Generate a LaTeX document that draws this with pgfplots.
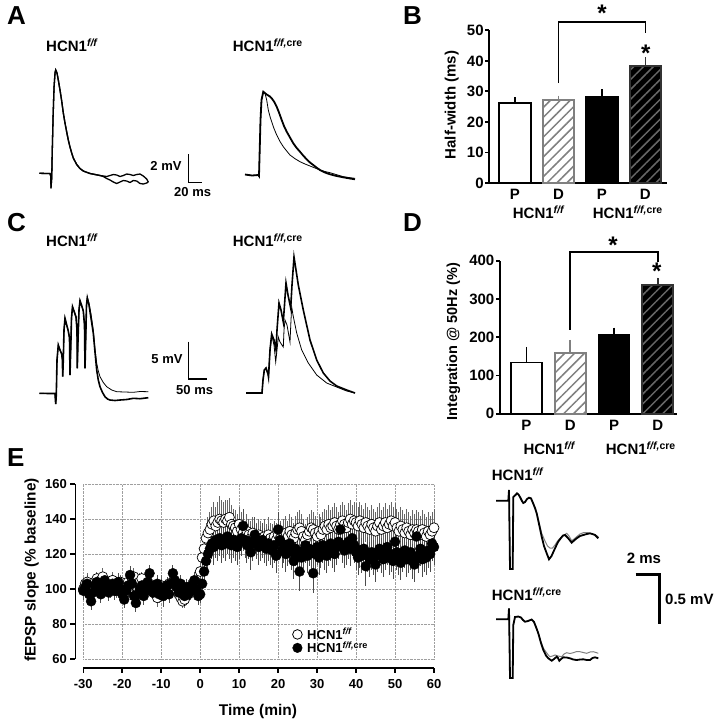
\documentclass[border=0pt]{standalone}
\usepackage{fontspec}
\setmainfont{Liberation Sans}
\usepackage{pgfplots}
\pgfplotsset{compat=1.18}
\usepackage{pgfplotstable}
\usetikzlibrary{patterns.meta}
\newcommand{\fs}[1]{\fontsize{#1}{#1}\selectfont\bfseries}
\newcommand{\ff}{HCN1\textsuperscript{\itshape f/f}}
\newcommand{\ffc}{HCN1\textsuperscript{\itshape f/f,\upshape cre}}

\pgfplotstableread{
t y e
-30 100 4
-29.5 103 4
-29 104 5
-28.5 101 4
-28 99 4
-27.5 102 5
-27 104 4
-26.5 106 4
-26 103 5
-25.5 105 4
-25 107 5
-24.5 104 4
-24 102 5
-23.5 100 4
-23 103 4
-22.5 105 5
-22 101 4
-21.5 99 4
-21 102 5
-20.5 104 4
-20 100 4
-19.5 97 5
-19 101 4
-18.5 104 4
-18 102 5
-17.5 106 4
-17 107 5
-16.5 103 4
-16 100 4
-15.5 104 5
-15 106 4
-14.5 102 4
-14 99 5
-13.5 101 4
-13 103 4
-12.5 100 5
-12 98 4
-11.5 101 4
-11 95 5
-10.5 99 4
-10 102 6
-9.5 100 4
-9 97 4
-8.5 101 5
-8 103 4
-7.5 100 4
-7 104 5
-6.5 101 4
-6 99 4
-5.5 97 5
-5 95 4
-4.5 93 4
-4 94 5
-3.5 98 4
-3 101 4
-2.5 99 5
-2 102 4
-1.5 100 4
-1 104 5
-0.5 103 4
0 110 6
0.5 118 7
1 123 8
1.5 129 9
2 132 9
2.5 134 10
3 137 10
3.5 139 11
4 136 11
4.5 138 12
5 140 13
5.5 139 12
6 138 12
6.5 140 11
7 139 12
7.5 141 11
8 137 11
8.5 136 10
9 135 10
9.5 133 10
10 137 10
10.5 134 10
11 132 10
11.5 130 9
12 133 10
12.5 131 9
13 129 10
13.5 132 9
14 130 10
14.5 128 10
15 131 9
15.5 129 10
16 127 9
16.5 130 10
17 128 9
17.5 131 10
18 129 9
18.5 127 10
19 130 9
19.5 128 10
20 131 9
20.5 129 10
21 127 9
21.5 130 10
22 132 10
22.5 130 9
23 133 10
23.5 131 10
24 129 9
24.5 132 10
25 134 10
25.5 135 10
26 133 10
26.5 130 10
27 128 9
27.5 131 10
28 133 10
28.5 135 10
29 134 10
29.5 132 10
30 130 10
30.5 133 10
31 131 10
31.5 134 10
32 136 10
32.5 134 11
33 137 11
33.5 135 10
34 136 11
34.5 138 11
35 136 11
35.5 134 10
36 137 11
36.5 139 11
37 137 11
37.5 135 10
38 138 11
38.5 140 11
39 137 11
39.5 139 11
40 138 11
40.5 136 11
41 139 11
41.5 137 11
42 135 11
42.5 138 11
43 136 11
43.5 134 11
44 137 11
44.5 135 11
45 133 11
45.5 136 11
46 138 11
46.5 134 11
47 136 11
47.5 138 11
48 135 11
48.5 137 11
49 139 11
49.5 136 11
50 138 11
50.5 135 11
51 133 11
51.5 136 11
52 134 11
52.5 132 11
53 135 11
53.5 133 11
54 131 11
54.5 134 11
55 132 11
55.5 134 11
56 133 11
56.5 131 11
57 134 11
57.5 132 11
58 130 11
58.5 133 11
59 131 11
59.5 133 11
60 135 11
}\ffdata

\pgfplotstableread{
t y e
-30 99 5
-29.5 101 5
-29 103 5
-28.5 97 5
-28 93 5
-27.5 98 5
-27 102 5
-26.5 104 5
-26 100 5
-25.5 97 5
-25 103 6
-24.5 105 5
-24 101 5
-23.5 98 5
-23 100 5
-22.5 103 5
-22 99 5
-21.5 101 5
-21 104 5
-20.5 100 5
-20 97 5
-19.5 94 5
-19 99 5
-18.5 102 5
-18 108 5
-17.5 103 5
-17 96 5
-16.5 92 5
-16 97 5
-15.5 100 5
-15 102 5
-14.5 96 5
-14 99 5
-13.5 104 5
-13 109 5
-12.5 102 5
-12 98 5
-11.5 100 5
-11 103 5
-10.5 97 5
-10 101 5
-9.5 96 6
-9 99 5
-8.5 102 5
-8 97 5
-7.5 103 5
-7 109 5
-6.5 105 5
-6 101 5
-5.5 98 5
-5 103 5
-4.5 99 5
-4 96 5
-3.5 101 5
-3 97 5
-2.5 99 5
-2 102 5
-1.5 105 5
-1 100 5
-0.5 96 5
0 97 5
0.5 103 6
1 110 7
1.5 116 8
2 120 9
2.5 123 9
3 126 9
3.5 124 10
4 128 10
4.5 126 10
5 129 10
5.5 125 10
6 128 10
6.5 126 10
7 130 10
7.5 127 10
8 125 10
8.5 128 10
9 126 10
9.5 124 10
10 127 10
10.5 129 10
11 136 10
11.5 128 10
12 125 10
12.5 127 10
13 121 10
13.5 126 10
14 131 10
14.5 127 10
15 124 10
15.5 126 10
16 128 10
16.5 125 10
17 123 10
17.5 126 10
18 124 10
18.5 122 10
19 125 10
19.5 119 10
20 134 10
20.5 128 10
21 122 10
21.5 125 10
22 120 10
22.5 123 10
23 126 10
23.5 121 10
24 116 10
24.5 123 10
25 120 10
25.5 110 11
26 118 10
26.5 122 10
27 125 10
27.5 119 10
28 123 10
28.5 121 10
29 109 11
29.5 120 10
30 124 10
30.5 118 10
31 122 10
31.5 125 10
32 121 10
32.5 119 10
33 123 10
33.5 126 10
34 122 10
34.5 120 10
35 124 10
35.5 127 10
36 134 10
36.5 125 10
37 122 10
37.5 124 10
38 127 10
38.5 123 10
39 129 10
39.5 125 10
40 121 10
40.5 118 10
41 122 10
41.5 119 10
42 123 10
42.5 113 11
43 120 10
43.5 117 10
44 121 10
44.5 118 10
45 114 10
45.5 120 10
46 123 10
46.5 119 10
47 117 10
47.5 121 10
48 124 10
48.5 118 10
49 120 10
49.5 116 10
50 127 10
50.5 121 10
51 118 10
51.5 115 10
52 120 10
52.5 122 10
53 117 10
53.5 119 10
54 121 10
54.5 116 10
55 114 10
55.5 130 10
56 119 10
56.5 123 10
57 117 10
57.5 120 10
58 118 10
58.5 122 10
59 120 10
59.5 126 10
60 124 10
}\credata

\begin{document}
\begin{tikzpicture}
\path[use as bounding box] (0,0) rectangle (719pt,-720pt);

% ---------------- Panel B ----------------
\begin{axis}[at={(489.3pt,-183pt)}, anchor=south west, scale only axis,
  width=177.4pt, height=152.7pt, xmin=0.41, xmax=4.49, ymin=0, ymax=50,
  axis x line*=bottom, axis y line*=left, axis line style={line width=1.8pt},
  ytick={0,10,...,50}, xtick={1,2,3,4}, xticklabels={P,D,P,D},
  tick align=outside, major tick length=4pt,
  ytick style={line width=1.8pt, black}, xtick style={draw=none},
  yticklabel style={font=\fs{15}, inner xsep=1.5pt},
  xticklabel style={font=\fs{15}, yshift=-1pt, inner ysep=1pt},
  /pgf/number format/assume math mode=true, clip=false]
\addplot[ybar, bar width=31.5pt, bar shift=0pt, fill=white, draw=black, line width=1.8pt,
  error bars/.cd, y dir=plus, y explicit, error mark=none, error bar style={line width=1.8pt, black}]
  coordinates {(1,26.3) +- (0,1.7)};
\addplot[ybar, bar width=31.5pt, bar shift=0pt, fill=white, draw=gray, line width=1.8pt,
  postaction={pattern={Lines[angle=45,distance=7pt,line width=1.5pt]}, pattern color=gray},
  error bars/.cd, y dir=plus, y explicit, error mark=none, error bar style={line width=1.8pt, gray}]
  coordinates {(2,27.2) +- (0,1.4)};
\addplot[ybar, bar width=31.5pt, bar shift=0pt, fill=black, draw=black, line width=1.8pt,
  error bars/.cd, y dir=plus, y explicit, error mark=none, error bar style={line width=1.8pt, black}]
  coordinates {(3,28.2) +- (0,2.5)};
\addplot[ybar, bar width=31.5pt, bar shift=0pt, fill=black, draw=black!80, line width=1.8pt,
  postaction={pattern={Lines[angle=45,distance=7pt,line width=1.5pt]}, pattern color=black!60},
  error bars/.cd, y dir=plus, y explicit, error mark=none, error bar style={line width=1.8pt, black!80}]
  coordinates {(4,38.4) +- (0,2.8)};
\draw[line width=1.8pt] (axis cs:2,32.7) |- (axis cs:4,52.6) -- (axis cs:4,49);
\end{axis}

% ---------------- Panel D ----------------
\begin{axis}[at={(500pt,-413.7pt)}, anchor=south west, scale only axis,
  width=177.3pt, height=153pt, xmin=0.395, xmax=4.445, ymin=0, ymax=400,
  axis x line*=bottom, axis y line*=left, axis line style={line width=1.8pt},
  ytick={0,100,...,400}, xtick={1,2,3,4}, xticklabels={P,D,P,D},
  tick align=outside, major tick length=4pt,
  ytick style={line width=1.8pt, black}, xtick style={draw=none},
  yticklabel style={font=\fs{15}, inner xsep=1.5pt},
  xticklabel style={font=\fs{15}, yshift=-1pt, inner ysep=1pt},
  /pgf/number format/assume math mode=true, clip=false]
\addplot[ybar, bar width=31pt, bar shift=0pt, fill=white, draw=black, line width=1.8pt,
  error bars/.cd, y dir=plus, y explicit, error mark=none, error bar style={line width=1.8pt, black}]
  coordinates {(1,134) +- (0,41)};
\addplot[ybar, bar width=31pt, bar shift=0pt, fill=white, draw=gray, line width=1.8pt,
  postaction={pattern={Lines[angle=45,distance=7pt,line width=1.5pt]}, pattern color=gray},
  error bars/.cd, y dir=plus, y explicit, error mark=none, error bar style={line width=1.8pt, gray}]
  coordinates {(2,158) +- (0,35)};
\addplot[ybar, bar width=31pt, bar shift=0pt, fill=black, draw=black, line width=1.8pt,
  error bars/.cd, y dir=plus, y explicit, error mark=none, error bar style={line width=1.8pt, black}]
  coordinates {(3,206) +- (0,19)};
\addplot[ybar, bar width=31pt, bar shift=0pt, fill=black, draw=black!80, line width=1.8pt,
  postaction={pattern={Lines[angle=45,distance=7pt,line width=1.5pt]}, pattern color=black!60},
  error bars/.cd, y dir=plus, y explicit, error mark=none, error bar style={line width=1.8pt, black!80}]
  coordinates {(4,336) +- (0,20)};
\draw[line width=1.8pt] (axis cs:2,219) |- (axis cs:4,422) -- (axis cs:4,397);
\end{axis}

% ---------------- Panel E (time course) ----------------
\begin{axis}[at={(83.3pt,-659pt)}, anchor=south west, scale only axis,
  width=350.7pt, height=175pt, xmin=-30, xmax=60, ymin=60, ymax=160,
  xtick={-30,-20,...,60}, ytick={60,80,...,160},
  axis x line*=bottom, axis y line*=left,
  axis x line shift=8.7pt, axis y line shift=8pt,
  axis line style={line width=1.6pt},
  grid=major, grid style={densely dotted, gray!75, line width=0.9pt},
  tick align=outside, major tick length=5pt,
  every tick/.style={line width=1.6pt, black},
  ticklabel style={font=\fs{13}},
  xticklabel style={yshift=-3pt},
  /pgf/number format/assume math mode=true, clip=false,
  legend style={draw=none, fill=none, at={(axis cs:22.9,70.2)}, anchor=west,
    font=\fs{13}, row sep=-1pt, nodes={inner ysep=1pt}},
  legend cell align=left]
\addlegendimage{only marks, mark=*, mark size=4.8pt, mark options={fill=white, draw=black, line width=0.8pt}}
\addlegendimage{only marks, mark=*, mark size=4.8pt, mark options={fill=black, draw=black}}
\addplot[only marks, mark=*, mark size=5pt, mark options={fill=white, draw=black, line width=0.7pt},
  error bars/.cd, y dir=both, y explicit, error mark=none, error bar style={line width=1pt, gray!80!black}]
  table[x=t, y=y, y error=e] {\ffdata};
\addplot[only marks, mark=*, mark size=5pt, mark options={fill=black, draw=black},
  error bars/.cd, y dir=both, y explicit, error mark=none, error bar style={line width=1pt, black!70}]
  table[x=t, y=y, y error=e] {\credata};
\legend{\hspace*{3pt}\ff, \hspace*{3pt}\ffc}
\end{axis}

% ---------------- Overlay: traces, scale bars, text (pixel coordinates) ----------------
\begin{axis}[at={(0pt,0pt)}, anchor=north west, scale only axis, width=719pt, height=720pt,
  xmin=0, xmax=719, ymin=0, ymax=720, y dir=reverse, hide axis, clip=false]
% A left
\addplot[black, line width=1.3pt] coordinates {(39.3,173.3)(50,173.5)(50.7,176)(51,188.3)(51.7,178)(52.3,150)(53,120)(54,88)(55,73)(55.7,70)(57,73)(58.3,80)(60,90)(61.7,101)(63.3,113)(65,123)(66.7,132)(68.3,140)(70,147)(71.7,153)(73.3,158)(76.7,164.5)(80,168.5)(83.3,171)(86.7,172.3)(90,173.5)(95,174.5)(100,175.5)(103.3,176.5)(106.7,178.5)(110,180)(113.3,182)(116.7,183.5)(120,182)(123.3,180.5)(126.7,181)(130,182.5)(133.3,180.5)(136.7,181)(140,183.5)(143.3,184)(146.7,183)(148.3,182)};
\addplot[black, line width=1.3pt] coordinates {(39.3,173.3)(50,173.5)(50.7,176)(51,188.3)(51.7,178)(52.3,150)(53,120)(54,88)(55,73)(55.7,70)(57,73)(58.3,80)(60,90)(61.7,101)(63.3,113)(65,123)(66.7,132)(68.3,140)(70,147)(71.7,153)(73.3,158)(76.7,164.5)(80,168.5)(83.3,171)(86.7,172.3)(90,173.5)(95,174.5)(100,175.5)(103.3,176)(106.7,176.5)(110,175.5)(113.3,174.5)(116.7,175)(120,176.5)(123.3,175.5)(126.7,174)(130,174.5)(133.3,175.5)(136.7,174.5)(140,174)(143.3,176)(146.7,179)(148.3,182)};
% A right
\addplot[black, line width=0.8pt] coordinates {(245,174.5)(252,175.5)(258.3,175)(259,176)(259.7,150)(260.5,120)(261.5,100)(263.3,91.7)(265,93.3)(266.7,100)(268.3,110)(270,116.5)(271.7,121.7)(274,128.5)(276.7,135)(280,141.5)(283.3,146.7)(286.7,151)(290,155)(295,158.7)(300,161.7)(305,164)(310,166)(315,168)(320,170)(325,171.5)(330,172.7)(336.7,174.7)(343.3,176.7)(350,177.7)(355,178.3)};
\addplot[black, line width=1.8pt] coordinates {(245,174.5)(252,175.5)(258.3,175)(259,176)(259.7,150)(260.5,120)(261.5,100)(263.3,91.7)(266.7,94.5)(270,96.5)(271.7,98.3)(274,101.5)(276.7,106.7)(279,112.5)(281.7,120)(284,126)(286.7,131.7)(290,137.5)(293.3,143.3)(296.7,148)(300,151.7)(303.3,155.7)(306.7,159.3)(310,162.5)(313.3,165)(316.7,167.7)(320,170)(325,172.5)(330,174.3)(336.7,176)(343.3,177.3)(350,178.5)(355,179.3)};
% C left
\addplot[black, line width=0.8pt] coordinates {(39.3,393.3)(50,393.5)(55,393.5)(55.7,404)(56.3,395)(57,360)(58.3,345)(60,350)(61.7,354)(62.4,360)(62.7,376.7)(63.3,360)(64,330)(65,318.3)(66.7,325)(68.3,331)(69.5,338)(70,375)(70.7,350)(71.5,318)(72.5,306.7)(74,311)(76,317)(77,330)(77.3,368.3)(78,340)(79,310)(80,300.7)(81.5,305)(83.3,311)(84.5,325)(85,368.3)(85.7,340)(86.5,305)(87.3,297)(89,303)(91,314)(93.3,330)(95,349)(96.7,363.3)(98.3,371)(100,376.7)(103.3,382.5)(106.7,386.7)(111.7,390)(116.7,391.7)(125,392)(133.3,392.3)(140,391.5)(148.3,391.7)};
\addplot[black, line width=1.6pt] coordinates {(39.3,393.3)(50,393.5)(55,393.5)(55.7,404)(56.3,395)(57,360)(58.3,345)(60,350)(61.7,354)(62.4,360)(62.7,376.7)(63.3,360)(64,330)(65,318.3)(66.7,325)(68.3,331)(69.5,338)(70,375)(70.7,350)(71.5,318)(72.5,306.7)(74,311)(76,317)(77,330)(77.3,368.3)(78,340)(79,310)(80,300.7)(81.5,305)(83.3,311)(84.5,325)(85,368.3)(85.7,340)(86.5,305)(87.3,298)(89,305)(91,318)(93.3,333.3)(95,352)(96.7,370)(98.3,380)(100,386.7)(102.5,392.5)(105,396.7)(107.5,399)(110,400)(115,400.5)(120,400)(126.7,399.5)(133.3,398.3)(140,398.7)(148.3,397.7)};
% C right
\addplot[black, line width=0.8pt] coordinates {(246,393)(262,393)(263,380)(264.3,370)(266,368)(268,374)(268.5,377)(270,350)(271.7,335)(274,345)(275.7,362)(277,350)(278.3,337)(280,342)(283.3,347)(284,330)(285,320)(287,325)(290,342)(291,320)(291.7,307)(293,315)(296.7,333)(301.7,350)(308.3,363)(316.7,375)(326.7,383)(336.7,387)(346.7,391)(355,393)};
\addplot[black, line width=1.6pt] coordinates {(246,393)(262,393)(263,380)(264.3,370)(266,368)(268,374)(268.5,377)(270,350)(271.7,334)(274,340)(276,350)(277,330)(279,303)(281,310)(283.3,322)(284.5,305)(286,283)(288,295)(290.7,308)(292,285)(294,257)(296,270)(298.3,285)(303.3,310)(310,340)(316.7,360)(323.3,373)(330,381)(336.7,386)(346.7,390)(355,393)};
% E right, top
\addplot[gray, line width=1pt] coordinates {(496,500.7)(508.3,500.7)(509,490)(510,569)(512.7,569)(513.3,497)(515.5,495)(517,493.3)(518.5,494.5)(520,497)(522,501)(523.3,503)(525,502)(527,499)(529,497.7)(531,498.3)(533,503)(535,508)(536.7,513.3)(539,522)(541.7,533.3)(545,541)(547.5,546)(550,548)(552.5,548)(555,545)(557.5,541)(560,538.3)(563.3,535.5)(566.7,533.3)(569,536)(571.7,540.7)(574,539)(576.7,536.7)(580,534)(583.3,532.7)(586.7,532.5)(590,533.3)(594,534.5)(598.3,536.7)};
\addplot[black, line width=1.8pt] coordinates {(496,500.7)(508.3,500.7)(509,490)(510,569)(512.7,569)(513.3,497)(515.5,495)(517,493.3)(518.5,494.5)(520,497)(522,501)(523.3,503)(525,502)(527,499)(529,497.7)(531,498.3)(533,503)(535,508)(536.7,513.3)(539,524)(541.7,536.7)(544,546)(546.7,553.3)(549,559.3)(551.5,556)(555,548.3)(558,542)(560.7,538.3)(563,535.5)(565,535)(568,538)(571.7,542.7)(574,540.5)(576.7,538.3)(580,536)(583.3,535)(586.7,534)(590,533.3)(593,534.2)(595,535)(598.3,538.3)};
% E right, bottom
\addplot[gray, line width=1pt] coordinates {(496,619.3)(508.3,619.3)(509,608.3)(510,678)(512.7,678)(513.3,625)(515,617)(518.3,616.5)(521,617.5)(523,620)(525,621.7)(528,621)(531.7,619.5)(534,622)(536,627)(538.3,633.3)(541,642)(543.3,648)(546,652)(548.3,655)(550,656.7)(552.5,656)(555,655)(558,656)(561.7,656.7)(564,654)(566.7,652.7)(570,653.5)(573.3,652.7)(576.7,651.5)(580,651.7)(583.3,652.5)(586.7,653.3)(590,652)(593.3,651.7)(596,652.5)(598.3,653.3)};
\addplot[black, line width=1.8pt] coordinates {(496,619.3)(508.3,619.3)(509,608.3)(510,678)(512.7,678)(513.3,625)(515,617)(518.3,616.5)(521,617.5)(523,620)(525,621.7)(528,621)(531.7,619.5)(534,622)(536,627)(538.3,633.3)(541,643)(543.3,650)(546,655.5)(548.3,658.3)(551.7,660.7)(554,659)(556.7,656.7)(558,658)(559.3,660.7)(561,659)(563.3,657.3)(566.7,657.5)(570,658.3)(573.3,659.5)(576.7,660)(580,659.5)(583.3,659.3)(586.7,660)(590,660)(592.5,658)(595,657.3)(598.3,658.3)};
% scale bars
\draw[line width=1.5pt] (axis cs:188.7,154) -- (axis cs:188.7,182.7) -- (axis cs:201.7,182.7);
\draw[line width=1.5pt] (axis cs:188.7,341.7) -- (axis cs:188.7,379) -- (axis cs:207.3,379);
\draw[line width=3pt] (axis cs:635.7,574.3) -- (axis cs:659.3,574.3) -- (axis cs:659.3,624.3);
% panel letters
\node[anchor=base west, inner sep=0, font=\fs{26}] at (axis cs:7,24) {A};
\node[anchor=base west, inner sep=0, font=\fs{26}] at (axis cs:403,24) {B};
\node[anchor=base west, inner sep=0, font=\fs{26}] at (axis cs:7,231) {C};
\node[anchor=base west, inner sep=0, font=\fs{26}] at (axis cs:403,231) {D};
\node[anchor=base west, inner sep=0, font=\fs{26}] at (axis cs:7,466) {E};
% trace labels
\node[anchor=base west, inner sep=0, font=\fs{15}] at (axis cs:46,51.7) {\ff};
\node[anchor=base west, inner sep=0, font=\fs{15}] at (axis cs:232.7,51.7) {\ffc};
\node[anchor=base west, inner sep=0, font=\fs{15}] at (axis cs:46,246.7) {\ff};
\node[anchor=base west, inner sep=0, font=\fs{15}] at (axis cs:232.7,246.7) {\ffc};
\node[anchor=base west, inner sep=0, font=\fs{15}] at (axis cs:491.7,480.7) {\ff};
\node[anchor=base west, inner sep=0, font=\fs{15}] at (axis cs:491.7,600.5) {\ffc};
% scale bar labels
\node[anchor=base east, inner sep=0, font=\fs{13}] at (axis cs:181.7,170) {2 mV};
\node[anchor=base west, inner sep=0, font=\fs{13}] at (axis cs:174,196.7) {20 ms};
\node[anchor=base east, inner sep=0, font=\fs{13}] at (axis cs:182.7,363.3) {5 mV};
\node[anchor=base west, inner sep=0, font=\fs{13}] at (axis cs:176,394) {50 ms};
\node[anchor=base west, inner sep=0, font=\fs{15}] at (axis cs:626.7,563.3) {2 ms};
\node[anchor=base west, inner sep=0, font=\fs{15}] at (axis cs:665,604) {0.5 mV};
% bar-chart labels
\node[rotate=90, inner sep=0, font=\fs{15}] at (axis cs:451.7,105) {Half-width (ms)};
\node[rotate=90, inner sep=0, font=\fs{14.5}] at (axis cs:453.3,341.7) {Integration @ 50Hz (\%)};
\node[anchor=base west, inner sep=0, font=\fs{15}] at (axis cs:512.7,218.3) {\ff};
\node[anchor=base west, inner sep=0, font=\fs{15}] at (axis cs:592.7,218.3) {\ffc};
\node[anchor=base west, inner sep=0, font=\fs{15}] at (axis cs:523.3,454.5) {\ff};
\node[anchor=base west, inner sep=0, font=\fs{15}] at (axis cs:605.7,454.5) {\ffc};
% stars
\node[inner sep=0, font=\fs{24}, yshift=-5pt] at (axis cs:602,8.3) {*};
\node[inner sep=0, font=\fs{24}, yshift=-5pt] at (axis cs:645.7,48.3) {*};
\node[inner sep=0, font=\fs{24}, yshift=-5pt] at (axis cs:613,240) {*};
\node[inner sep=0, font=\fs{24}, yshift=-5pt] at (axis cs:656.7,266.7) {*};
% E axis labels
\node[rotate=90, inner sep=0, font=\fs{15.3}] at (axis cs:31.7,570) {fEPSP slope (\% baseline)};
\node[anchor=base, inner sep=0, font=\fs{15.5}] at (axis cs:258,715) {Time (min)};
\end{axis}
\end{tikzpicture}
\end{document}
